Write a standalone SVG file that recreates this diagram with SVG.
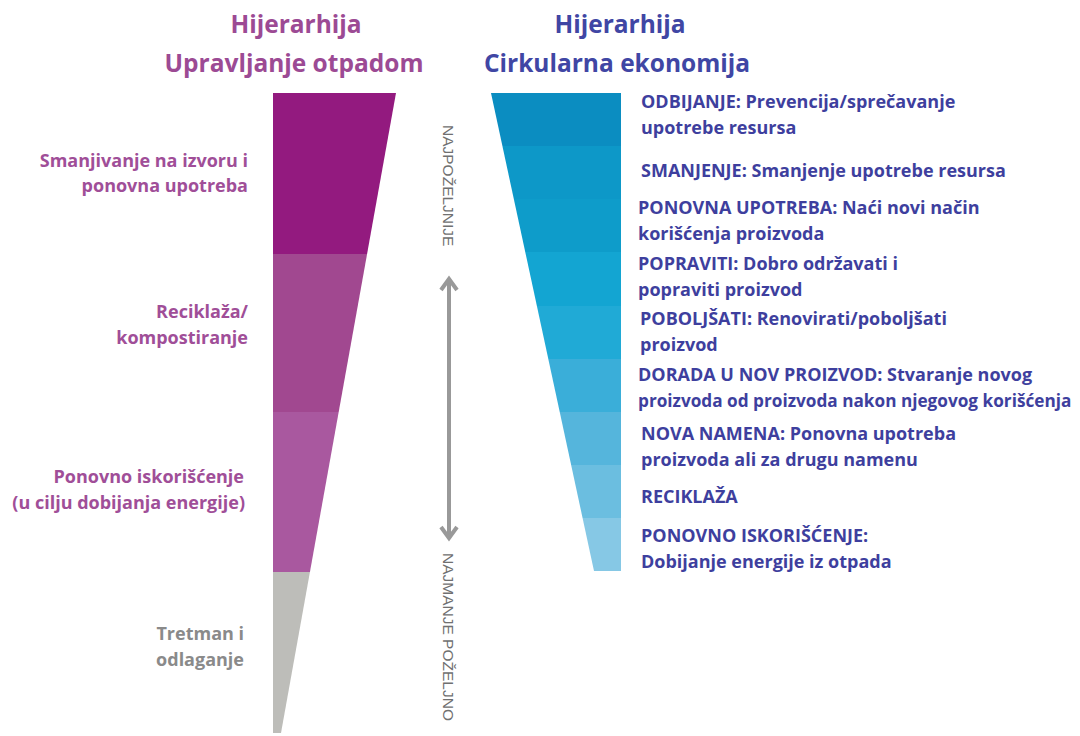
<svg xmlns="http://www.w3.org/2000/svg" width="1080" height="736" viewBox="0 0 1080 736">
<style>
text{font-family:"Open Sans","Noto Sans",sans-serif;font-weight:bold}
.tl{font-size:24.5px;fill:#9c4a94;text-anchor:middle}
.tr{font-size:24.5px;fill:#4046a4;text-anchor:middle}
.ll{font-size:18px;fill:#a04e98;text-anchor:end}
.lg{font-size:18px;fill:#8a8a8a;text-anchor:end}
.rl{font-size:18px;fill:#3e3f9e}
.vt{font-family:"Liberation Sans",sans-serif;font-weight:normal;font-size:15.5px;fill:#707070}
</style>
<defs>
<clipPath id="lc"><polygon points="273,93 396,93 281,733 273,733"/></clipPath>
<clipPath id="rc"><polygon points="491,93 621,93 621,571 594,571"/></clipPath>
</defs>
<rect width="1080" height="736" fill="#fff"/>
<g id="titles">
<text class="tl" x="296" y="33">Hijerarhija</text>
<text class="tl" x="294" y="72">Upravljanje otpadom</text>
<text class="tr" x="620" y="33">Hijerarhija</text>
<text class="tr" x="617" y="72">Cirkularna ekonomija</text>
</g>
<g id="left-pyramid" clip-path="url(#lc)">
<rect x="270" y="93" width="130" height="161" fill="#931a7f"/>
<rect x="270" y="254" width="130" height="158" fill="#a14890"/>
<rect x="270" y="412" width="130" height="160" fill="#a9589f"/>
<rect x="270" y="572" width="130" height="165" fill="#bdbdb9"/>
</g>
<g id="left-labels">
<text class="ll" x="248" y="167">Smanjivanje na izvoru i</text>
<text class="ll" x="248" y="192">ponovna upotreba</text>
<text class="ll" x="248" y="318">Reciklaža/</text>
<text class="ll" x="248" y="344">kompostiranje</text>
<text class="ll" x="244" y="483">Ponovno iskorišćenje</text>
<text class="ll" x="245" y="509">(u cilju dobijanja energije)</text>
<text class="lg" x="244" y="640">Tretman i</text>
<text class="lg" x="244" y="666">odlaganje</text>
</g>
<g id="scale">
<text class="vt" transform="translate(443,125) rotate(90)">NAJPOŽELJNIJE</text>
<text class="vt" transform="translate(443,553) rotate(90)">NAJMANJE POŽELJNO</text>
</g>
<g id="connectors">
<line x1="449" y1="282" x2="449" y2="535" stroke="#999" stroke-width="4"/>
<polyline points="441,290 449,279 457,290" fill="none" stroke="#999" stroke-width="4"/>
<polyline points="441,527 449,538 457,527" fill="none" stroke="#999" stroke-width="4"/>
</g>
<g id="right-pyramid" clip-path="url(#rc)">
<rect x="488" y="93" width="136" height="53" fill="#0b8dc1"/>
<rect x="488" y="146" width="136" height="53" fill="#0d98c8"/>
<rect x="488" y="199" width="136" height="53" fill="#0e9cca"/>
<rect x="488" y="252" width="136" height="54" fill="#13a5d2"/>
<rect x="488" y="306" width="136" height="53" fill="#20aad6"/>
<rect x="488" y="359" width="136" height="53" fill="#3aaed9"/>
<rect x="488" y="412" width="136" height="53" fill="#55b5dc"/>
<rect x="488" y="465" width="136" height="53" fill="#6bbee0"/>
<rect x="488" y="518" width="136" height="53" fill="#86c8e5"/>
</g>
<g id="right-labels">
<text class="rl" x="641" y="108">ODBIJANJE: Prevencija/sprečavanje</text>
<text class="rl" x="641" y="134">upotrebe resursa</text>
<text class="rl" x="641" y="177">SMANJENJE: Smanjenje upotrebe resursa</text>
<text class="rl" x="638" y="214">PONOVNA UPOTREBA: Naći novi način</text>
<text class="rl" x="638" y="240">korišćenja proizvoda</text>
<text class="rl" x="638" y="270">POPRAVITI: Dobro održavati i</text>
<text class="rl" x="638" y="296">popraviti proizvod</text>
<text class="rl" x="640" y="325">POBOLJŠATI: Renovirati/poboljšati</text>
<text class="rl" x="640" y="351">proizvod</text>
<text class="rl" x="638" y="381">DORADA U NOV PROIZVOD: Stvaranje novog</text>
<text class="rl" x="638" y="407" style="font-size:17.2px">proizvoda od proizvoda nakon njegovog korišćenja</text>
<text class="rl" x="641" y="440">NOVA NAMENA: Ponovna upotreba</text>
<text class="rl" x="641" y="466">proizvoda ali za drugu namenu</text>
<text class="rl" x="641" y="503">RECIKLAŽA</text>
<text class="rl" x="641" y="542">PONOVNO ISKORIŠĆENJE:</text>
<text class="rl" x="641" y="568">Dobijanje energije iz otpada</text>
</g>
</svg>
